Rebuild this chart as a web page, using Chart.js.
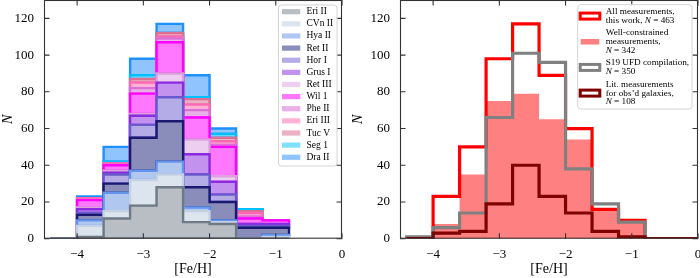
<!DOCTYPE html>
<html>
<head>
<meta charset="utf-8">
<script src="https://cdn.jsdelivr.net/npm/chart.js@4.4.1/dist/chart.umd.min.js"></script>
<style>
  html, body { margin: 0; padding: 0; background: #fff; }
  #wrap { display: flex; width: 700px; height: 278px; }
  canvas { display: block; }
</style>
</head>
<body>
<div id="wrap">
  <canvas id="leftChart" width="350" height="278"></canvas>
  <canvas id="rightChart" width="350" height="278"></canvas>
</div>
<script>
const binEdges = [-4.4, -4.0, -3.6, -3.2, -2.8, -2.4, -2.0, -1.6, -1.2, -0.8, -0.4, 0.0];
const xTickValues = [-4, -3, -2, -1, 0];
const yTickValues = [0, 20, 40, 60, 80, 100, 120];

// left panel, counts per galaxy in each bin (stacked bottom to top)
const galaxyNames = ['Eri II', 'CVn II', 'Hya II', 'Ret II', 'Hor I', 'Grus I', 'Ret III',
  'Wil 1', 'Phe II', 'Eri III', 'Tuc V', 'Seg 1', 'Dra II'];
const eriII  = [0, 1, 11, 18, 28,  9,  8, 0, 0, 0, 0];
const cvnII  = [0, 6,  4, 14,  7,  6,  1, 0, 1, 0, 0];
const hyaII  = [0, 3, 10,  5,  7,  2,  1, 0, 1, 0, 0];
const retII  = [0, 3,  5, 18, 22, 11, 10, 6, 4, 0, 0];
const horI   = [0, 1,  5,  7, 13,  7,  4, 1, 1, 0, 0];
const grusI  = [0, 2,  1,  5,  8, 11,  7, 1, 1, 0, 0];
const retIII = [0, 1,  1,  1,  5,  8,  3, 0, 0, 0, 0];
const wil1   = [0, 4,  3, 11, 17, 12, 16, 3, 2, 0, 0];
const pheII  = [0, 0,  0,  3,  2,  4,  1, 1, 0, 0, 0];
const eriIII = [0, 1,  1,  3,  1,  3,  2, 2, 0, 0, 0];
const tucV   = [0, 0,  0,  2,  2,  3,  2, 1, 0, 0, 0];
const seg1   = [0, 0,  1,  2,  0,  1,  2, 1, 0, 0, 0];
const draII  = [0, 1,  8,  9,  5, 12,  3, 0, 0, 0, 0];
const galaxyCounts = [eriII, cvnII, hyaII, retII, horI, grusI, retIII, wil1, pheII, eriIII, tucV, seg1, draII];

// right panel
const allCounts  = [0, 23, 50, 98, 117, 89, 60, 16, 10, 0, 0];
const wellCounts = [0,  8, 35, 75,  79, 65, 54, 16, 10, 0, 0];
const s19Counts  = [1,  6, 14, 66, 101, 96, 38, 19,  9, 0, 0];
const litCounts  = [0,  3,  4, 19,  40, 23, 14,  4,  1, 0, 0];
const rightLabels = [
  ['All measurements,', 'this work, $N$ = 463'],
  ['Well-constrained', 'measurements,', '$N$ = 342'],
  ['S19 UFD compilation,', '$N$ = 350'],
  ['Lit. measurements', 'for obs\u2019d galaxies,', '$N$ = 108']
];

const galaxyFill = ['#b9bec5', '#dce4ee', '#b0c8f0', '#8a8db9', '#b4ace6', '#c391ee', '#eecef0',
  '#ff78ff', '#e8b0e6', '#ffb2d6', '#ecb0c4', '#80e0ff', '#8fc4ff'];
const galaxyEdge = ['#6e7a86', '#c4d0e4', '#6495ed', '#191970', '#6a5acd', '#8a2be2', '#dda0dd',
  '#ff00ff', '#da70d6', '#ff69b4', '#db7093', '#00bfff', '#1e90ff'];

const FONT = '"Liberation Serif", "Times New Roman", serif';
Chart.defaults.font.family = FONT;
Chart.defaults.color = '#000';

function binsIn(from, to) {
  const out = [];
  for (let i = 0; i < binEdges.length - 1; i++) {
    if (binEdges[i] >= from - 1e-9 && binEdges[i + 1] <= to + 1e-9) out.push(i);
  }
  return out;
}

// open step outline like histtype='step'
function stepLine(counts, from, to) {
  const idx = binsIn(from, to);
  const pts = [{x: binEdges[idx[0]], y: 0}];
  idx.forEach((i) => {
    pts.push({x: binEdges[i], y: counts[i]});
    pts.push({x: binEdges[i + 1], y: counts[i]});
  });
  pts.push({x: binEdges[idx[idx.length - 1] + 1], y: 0});
  return pts;
}

// closed outline of one stacked layer
function stackShape(lower, upper, from, to) {
  const idx = binsIn(from, to);
  const pts = [{x: binEdges[idx[0]], y: lower[idx[0]]}];
  idx.forEach((i) => {
    pts.push({x: binEdges[i], y: upper[i]});
    pts.push({x: binEdges[i + 1], y: upper[i]});
  });
  const last = idx[idx.length - 1];
  pts.push({x: binEdges[last + 1], y: lower[last]});
  for (let k = idx.length - 1; k >= 0; k--) {
    const i = idx[k];
    pts.push({x: binEdges[i + 1], y: lower[i]});
    pts.push({x: binEdges[i], y: lower[i]});
  }
  return pts;
}

function fmt(v) {
  return v < 0 ? '\u2212' + Math.abs(v) : String(v);
}

function makeScales(yWidth) {
  return {
    x: {
      type: 'linear', min: -4.5, max: 0,
      afterBuildTicks: (s) => { s.ticks = xTickValues.map((v) => ({value: v})); },
      afterFit: (s) => {
        s.height = 39.3;
        s.paddingLeft = 0; s.paddingRight = 0;
      },
      ticks: {callback: fmt, font: {size: 13}, padding: 8, maxRotation: 0},
      grid: {display: false, drawTicks: false},
      border: {display: false},
      title: {display: true, text: '[Fe/H]', font: {size: 14}, padding: 0}
    },
    y: {
      type: 'linear', min: 0, max: 130,
      afterBuildTicks: (s) => { s.ticks = yTickValues.map((v) => ({value: v})); },
      afterFit: (s) => {
        s.width = yWidth;
        s.paddingTop = 0; s.paddingBottom = 0;
      },
      ticks: {font: {size: 13}, padding: 10},
      grid: {display: false, drawTicks: false},
      border: {display: false},
      title: {display: true, text: 'N', font: {size: 14, style: 'italic'}, padding: 0}
    }
  };
}

// spines with inward ticks on all four sides
const frameTicks = {
  id: 'frameTicks',
  afterDatasetsDraw(chart) {
    const {ctx, chartArea: a, scales: {x, y}} = chart;
    const len = 5.5;
    ctx.save();
    ctx.strokeStyle = '#333';
    ctx.lineWidth = 1.1;
    ctx.beginPath();
    x.ticks.forEach((t) => {
      const px = x.getPixelForValue(t.value);
      ctx.moveTo(px, a.bottom); ctx.lineTo(px, a.bottom - len);
      ctx.moveTo(px, a.top); ctx.lineTo(px, a.top + len);
    });
    y.ticks.forEach((t) => {
      const py = y.getPixelForValue(t.value);
      ctx.moveTo(a.left, py); ctx.lineTo(a.left + len, py);
      ctx.moveTo(a.right, py); ctx.lineTo(a.right - len, py);
    });
    ctx.stroke();
    ctx.strokeRect(a.left + 0.5, a.top + 0.5, a.width - 1, a.height - 1);
    ctx.restore();
  }
};

function legendBox(ctx, x, y, w, h) {
  const r = 3;
  ctx.beginPath();
  ctx.moveTo(x + r, y);
  ctx.arcTo(x + w, y, x + w, y + h, r);
  ctx.arcTo(x + w, y + h, x, y + h, r);
  ctx.arcTo(x, y + h, x, y, r);
  ctx.arcTo(x, y, x + w, y, r);
  ctx.closePath();
  ctx.fillStyle = 'rgba(255,255,255,0.85)';
  ctx.fill();
  ctx.strokeStyle = '#d4d4d4';
  ctx.lineWidth = 1;
  ctx.stroke();
}

// text with $...$ parts in italics
function richText(ctx, text, x, y, size) {
  let cx = x;
  text.split('$').forEach((part, i) => {
    ctx.font = (i % 2 ? 'italic ' : '') + size + 'px ' + FONT;
    ctx.fillText(part, cx, y);
    cx += ctx.measureText(part).width;
  });
}

const leftLegend = {
  id: 'leftLegend',
  afterDraw(chart) {
    const ctx = chart.ctx;
    ctx.save();
    legendBox(ctx, 278.5, 5, 58.5, 161);
    ctx.textBaseline = 'middle';
    galaxyNames.forEach((name, i) => {
      const yy = 11.7 + i * 12.13;
      ctx.fillStyle = galaxyFill[i];
      ctx.fillRect(282, yy - 2.6, 18.3, 5.2);
      ctx.fillStyle = '#000';
      richText(ctx, name, 306.5, yy, 9.5);
    });
    ctx.restore();
  }
};

const rightStyles = [
  {color: '#ff0000', filled: false},
  {color: '#ff8080', filled: true},
  {color: '#808080', filled: false},
  {color: '#800000', filled: false}
];

const rightLegend = {
  id: 'rightLegend',
  afterDraw(chart) {
    const ctx = chart.ctx;
    ctx.save();
    legendBox(ctx, 227.7, 4.7, 114.3, 104.3);
    ctx.textBaseline = 'middle';
    let y0 = 11.7;
    const step = 8.75;
    rightLabels.forEach((lines, i) => {
      const cy = y0 + (lines.length - 1) * step / 2;
      const st = rightStyles[i];
      if (st.filled) {
        ctx.fillStyle = st.color;
        ctx.fillRect(230.7, cy - 2.8, 18.6, 5.6);
      } else {
        ctx.strokeStyle = st.color;
        ctx.lineWidth = 3;
        ctx.strokeRect(230.2, cy - 3, 19.6, 6);
      }
      ctx.fillStyle = '#000';
      lines.forEach((ln, k) => richText(ctx, ln, 255.7, y0 + k * step, 9.2));
      y0 += lines.length * step + 3.8;
    });
    ctx.restore();
  }
};

const common = {
  responsive: false,
  animation: false,
  devicePixelRatio: 1,
  events: [],
  plugins: {legend: {display: false}, tooltip: {enabled: false}},
  elements: {
    point: {radius: 0},
    line: {tension: 0, borderJoinStyle: 'miter', borderCapStyle: 'butt'}
  }
};

// left: stacked step-filled histogram
let lower = new Array(binEdges.length - 1).fill(0);
const leftSets = galaxyCounts.map((counts, i) => {
  const upper = lower.map((v, k) => v + counts[k]);
  const ds = {
    label: galaxyNames[i],
    data: stackShape(lower, upper, -4.4, -0.8),
    backgroundColor: galaxyFill[i],
    borderColor: galaxyEdge[i],
    borderWidth: 2.4,
    fill: 'shape'
  };
  lower = upper;
  return ds;
});

new Chart(document.getElementById('leftChart'), {
  type: 'line',
  data: {datasets: leftSets},
  options: Object.assign({}, common, {
    layout: {padding: {top: 0, right: 8, left: 0, bottom: 0}},
    scales: makeScales(44)
  }),
  plugins: [frameTicks, leftLegend]
});

// right: comparison histograms
new Chart(document.getElementById('rightChart'), {
  type: 'line',
  data: {
    datasets: [
      {label: 'Lit.', data: stepLine(litCounts, -4.4, 0), borderColor: '#800000', borderWidth: 3.2, fill: false, order: 1},
      {label: 'S19', data: stepLine(s19Counts, -4.4, -0.8), borderColor: '#808080', borderWidth: 3.2, fill: false, order: 2},
      {label: 'All', data: stepLine(allCounts, -4.0, -0.8), borderColor: '#ff0000', borderWidth: 3.2, fill: false, order: 3},
      {label: 'Well', data: stepLine(wellCounts, -4.0, -0.8), borderColor: '#ff8080', borderWidth: 0, backgroundColor: '#ff8080', fill: 'shape', order: 4}
    ]
  },
  options: Object.assign({}, common, {
    layout: {padding: {top: 0, right: 2, left: 0, bottom: 0}},
    scales: makeScales(50)
  }),
  plugins: [frameTicks, rightLegend]
});
</script>
</body>
</html>
